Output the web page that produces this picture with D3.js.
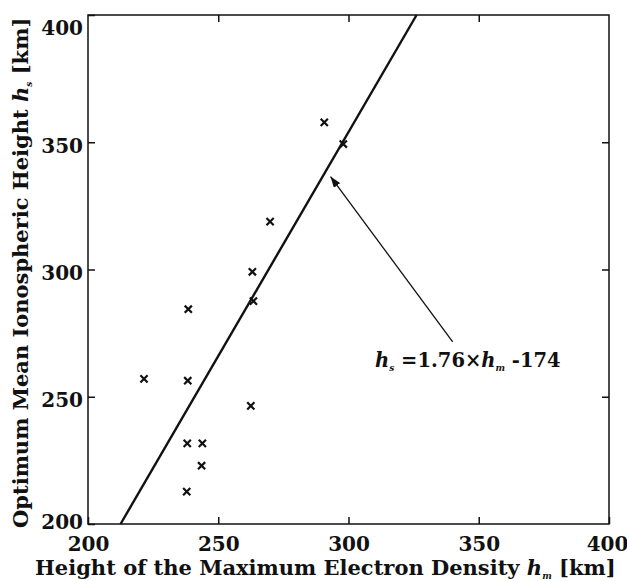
<!DOCTYPE html>
<html>
<head>
<meta charset="utf-8">
<style>
    body { margin: 0; background: #fff; }
    svg { display: block; }
    text { font-family: "DejaVu Serif", serif; font-weight: bold; fill: #111; }
</style>
</head>
<body>
<svg width="627" height="581"></svg>
<script src="https://d3js.org/d3.v7.min.js"></script>
<script>
    // hm (x) and hs (y) of the observed points, km
    const hmValues = [221.5, 237.9, 238.1, 238.3, 238.5, 243.6, 243.9, 262.5, 263.5, 263.1, 269.9, 290.7, 298.0];
    const hsValues = [257.0, 212.7, 231.7, 256.3, 284.4, 222.9, 231.7, 246.4, 287.6, 299.1, 318.8, 357.8, 349.3];
    const xTicks = [200, 250, 300, 350, 400];
    const yTicks = [200, 250, 300, 350, 400];
    // regression hs = slope * hm + intercept
    const slope = 1.76, intercept = -174;
    // annotation arrow (data coords) and text anchor
    const arrowFrom = [340, 271.6], arrowTo = [293.1, 336.5];
    const labelAt = [310.2, 261.8];

    const width = 627, height = 581;
    const margin = {top: 15, right: 18, bottom: 57, left: 88};

    const svg = d3.select("svg");

    const x = d3.scaleLinear().domain([200, 400]).range([margin.left, width - margin.right]);
    const y = d3.scaleLinear().domain([200, 400]).range([height - margin.bottom, margin.top]);

    // frame
    svg.append("rect")
        .attr("x", x(200)).attr("y", y(400))
        .attr("width", x(400) - x(200)).attr("height", y(200) - y(400))
        .attr("fill", "none").attr("stroke", "#111").attr("stroke-width", 1.5);

    const tick = 7;
    // bottom axis with labels
    const xAxis = svg.append("g")
        .attr("transform", `translate(0,${y(200)})`)
        .call(d3.axisBottom(x).tickValues(xTicks).tickSizeInner(-tick).tickSizeOuter(0).tickPadding(tick + 6));
    xAxis.select(".domain").remove();
    xAxis.selectAll("line").attr("stroke", "#111").attr("stroke-width", 1.5);
    xAxis.selectAll("text").attr("font-size", 20).attr("fill", "#111")
        .attr("dx", d => d === 400 ? -2 : 0);

    // top ticks
    const xTop = svg.append("g")
        .attr("transform", `translate(0,${y(400)})`)
        .call(d3.axisTop(x).tickValues(xTicks.slice(1, -1)).tickSizeInner(-tick).tickSizeOuter(0).tickFormat(""));
    xTop.select(".domain").remove();
    xTop.selectAll("line").attr("stroke", "#111").attr("stroke-width", 1.5);

    // left axis with labels
    const yAxis = svg.append("g")
        .attr("transform", `translate(${x(200)},0)`)
        .call(d3.axisLeft(y).tickValues(yTicks).tickSizeInner(-tick).tickSizeOuter(0).tickPadding(5));
    yAxis.select(".domain").remove();
    yAxis.selectAll("line").attr("stroke", "#111").attr("stroke-width", 1.5);
    yAxis.selectAll("text").attr("font-size", 20).attr("fill", "#111")
        .attr("dy", d => d === 400 ? "0.95em" : d === 200 ? "0.2em" : "0.5em");

    // right ticks
    const yRight = svg.append("g")
        .attr("transform", `translate(${x(400)},0)`)
        .call(d3.axisRight(y).tickValues(yTicks.slice(1, -1)).tickSizeInner(-tick).tickSizeOuter(0).tickFormat(""));
    yRight.select(".domain").remove();
    yRight.selectAll("line").attr("stroke", "#111").attr("stroke-width", 1.5);

    // regression line, limited to the hs range of the plot
    const hmAt = hs => (hs - intercept) / slope;
    svg.append("line")
        .attr("x1", x(hmAt(200))).attr("y1", y(200))
        .attr("x2", x(hmAt(400))).attr("y2", y(400))
        .attr("stroke", "#111").attr("stroke-width", 2.4);

    // cross markers
    const pts = hmValues.map((d, i) => [d, hsValues[i]]);
    const s = 3.6;
    svg.append("g")
        .attr("stroke", "#111").attr("stroke-width", 2.2)
        .selectAll("path")
        .data(pts)
        .join("path")
        .attr("d", d => {
            const cx = x(d[0]), cy = y(d[1]);
            return `M${cx - s},${cy - s}L${cx + s},${cy + s}M${cx - s},${cy + s}L${cx + s},${cy - s}`;
        });

    // arrow
    svg.append("defs").append("marker")
        .attr("id", "head")
        .attr("markerUnits", "userSpaceOnUse")
        .attr("markerWidth", 12).attr("markerHeight", 8)
        .attr("refX", 11).attr("refY", 4)
        .attr("orient", "auto")
        .append("path")
        .attr("d", "M0,0L11,4L0,8Z")
        .attr("fill", "#111");

    svg.append("line")
        .attr("x1", x(arrowFrom[0])).attr("y1", y(arrowFrom[1]))
        .attr("x2", x(arrowTo[0])).attr("y2", y(arrowTo[1]))
        .attr("stroke", "#111").attr("stroke-width", 1.3)
        .attr("marker-end", "url(#head)");

    // equation label
    const eq = svg.append("text")
        .attr("x", x(labelAt[0])).attr("y", y(labelAt[1]))
        .attr("font-size", 19.5);
    eq.append("tspan").attr("font-style", "italic").text("h");
    eq.append("tspan").attr("font-style", "italic").attr("font-size", 9).attr("dy", 4).text("s");
    eq.append("tspan").attr("dy", -4).text(" =1.76×");
    eq.append("tspan").attr("font-style", "italic").text("h");
    eq.append("tspan").attr("font-style", "italic").attr("font-size", 9).attr("dy", 4).text("m");
    eq.append("tspan").attr("dy", -4).text(" -174");

    // x title
    const xt = svg.append("text")
        .attr("x", 35).attr("y", 575)
        .attr("font-size", 21);
    xt.append("tspan").text("Height of the Maximum Electron Density  ");
    xt.append("tspan").attr("font-style", "italic").text("h");
    xt.append("tspan").attr("font-style", "italic").attr("font-size", 9).attr("dy", 4).text("m");
    xt.append("tspan").attr("dy", -4).text(" [km]");

    // y title
    const yt = svg.append("text")
        .attr("transform", "translate(28,528) rotate(-90)")
        .attr("font-size", 21);
    yt.append("tspan").text("Optimum Mean Ionospheric Height  ");
    yt.append("tspan").attr("font-style", "italic").text("h");
    yt.append("tspan").attr("font-style", "italic").attr("font-size", 9).attr("dy", 4).text("s");
    yt.append("tspan").attr("dy", -4).text(" [km]");
</script>
</body>
</html>
